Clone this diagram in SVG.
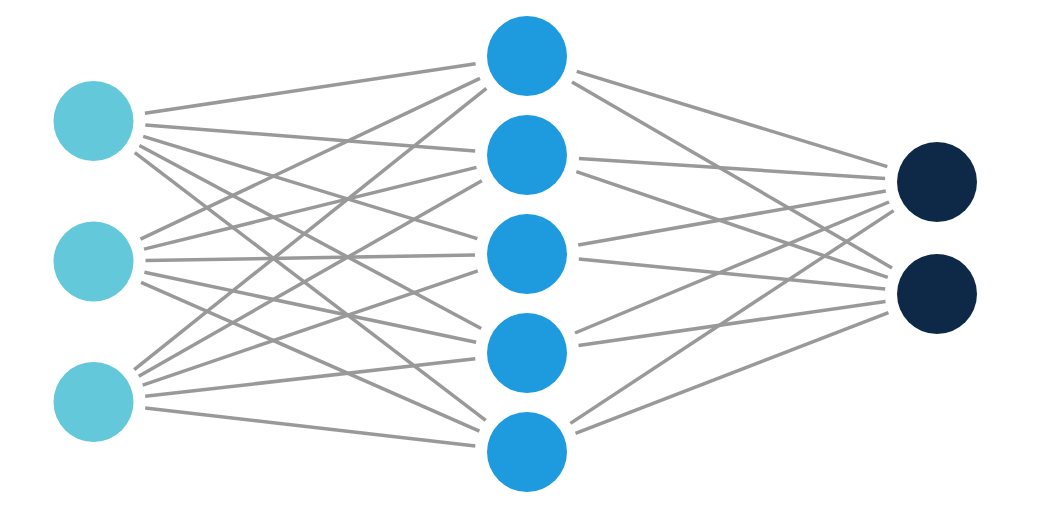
<svg xmlns="http://www.w3.org/2000/svg" width="1050" height="517" viewBox="0 0 1050 517">
<style>
.edge{stroke:#999999;stroke-width:3.5;fill:none}
.in{fill:#62C8DA}
.hid{fill:#1E9BDE}
.out{fill:#0E2947}
</style>
<rect width="1050" height="517" fill="#ffffff"/>
<g id="connectors">
<line class="edge" x1="144.9" y1="113.3" x2="475.6" y2="63.7"/>
<line class="edge" x1="145.3" y1="125.1" x2="475.2" y2="150.9"/>
<line class="edge" x1="143.2" y1="136.3" x2="477.3" y2="238.7"/>
<line class="edge" x1="139.4" y1="145.5" x2="481.2" y2="328.5"/>
<line class="edge" x1="134.8" y1="152.6" x2="485.7" y2="420.4"/>
<line class="edge" x1="140.5" y1="239.2" x2="480.0" y2="78.3"/>
<line class="edge" x1="144.0" y1="249.1" x2="476.5" y2="167.4"/>
<line class="edge" x1="145.5" y1="260.6" x2="475.0" y2="254.9"/>
<line class="edge" x1="144.4" y1="272.2" x2="476.1" y2="342.3"/>
<line class="edge" x1="141.1" y1="282.4" x2="479.4" y2="431.1"/>
<line class="edge" x1="134.2" y1="369.6" x2="486.4" y2="88.4"/>
<line class="edge" x1="138.7" y1="376.3" x2="481.8" y2="180.7"/>
<line class="edge" x1="142.7" y1="385.2" x2="477.8" y2="270.8"/>
<line class="edge" x1="145.2" y1="396.2" x2="475.3" y2="358.8"/>
<line class="edge" x1="145.2" y1="408.0" x2="475.3" y2="446.0"/>
<line class="edge" x1="576.7" y1="71.3" x2="887.3" y2="166.7"/>
<line class="edge" x1="578.9" y1="158.4" x2="885.1" y2="178.6"/>
<line class="edge" x1="578.2" y1="245.0" x2="885.8" y2="191.0"/>
<line class="edge" x1="575.0" y1="333.0" x2="889.0" y2="202.0"/>
<line class="edge" x1="570.4" y1="423.4" x2="893.6" y2="210.6"/>
<line class="edge" x1="572.0" y1="82.1" x2="892.0" y2="267.9"/>
<line class="edge" x1="576.3" y1="171.7" x2="887.8" y2="277.3"/>
<line class="edge" x1="578.8" y1="259.1" x2="885.2" y2="289.0"/>
<line class="edge" x1="578.5" y1="345.6" x2="885.5" y2="301.4"/>
<line class="edge" x1="575.5" y1="433.3" x2="888.5" y2="312.7"/>
</g>
<g id="input1"><circle class="in" cx="93.5" cy="121" r="40"/></g>
<g id="input2"><circle class="in" cx="93.5" cy="261.5" r="40"/></g>
<g id="input3"><circle class="in" cx="93.5" cy="402" r="40"/></g>
<g id="hidden1"><circle class="hid" cx="527" cy="56" r="40"/></g>
<g id="hidden2"><circle class="hid" cx="527" cy="155" r="40"/></g>
<g id="hidden3"><circle class="hid" cx="527" cy="254" r="40"/></g>
<g id="hidden4"><circle class="hid" cx="527" cy="353" r="40"/></g>
<g id="hidden5"><circle class="hid" cx="527" cy="452" r="40"/></g>
<g id="output1"><circle class="out" cx="937" cy="182" r="40"/></g>
<g id="output2"><circle class="out" cx="937" cy="294" r="40"/></g>
</svg>
